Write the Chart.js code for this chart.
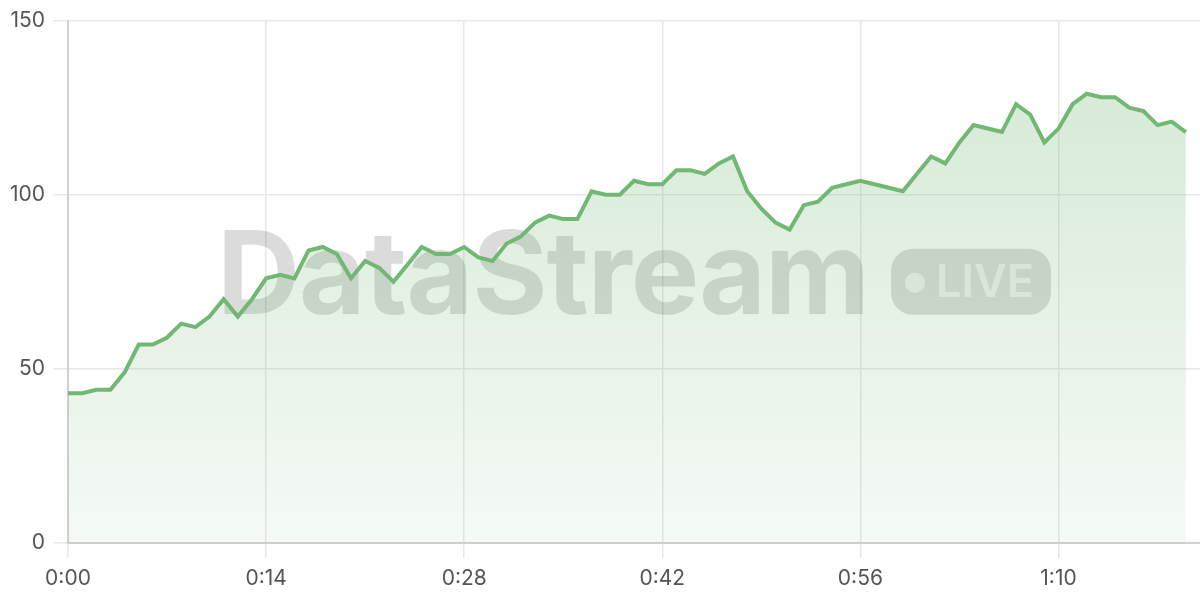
<!DOCTYPE html>
<html>
<head>
<meta charset="utf-8">
<script src="https://cdn.jsdelivr.net/npm/chart.js@4.4.1/dist/chart.umd.min.js"></script>
<style>
  html, body { margin: 0; padding: 0; background: #fff; }
  #wrap { width: 1200px; height: 600px; }
</style>
</head>
<body>
<div id="wrap"><canvas id="streamChart"></canvas></div>
<script>
// seconds 0..80, label every 14 s
const timeLabels = [];
for (let s = 0; s <= 80; s++) {
    timeLabels.push(Math.floor(s / 60) + ':' + String(s % 60).padStart(2, '0'));
}
const viewerValues = [
    43, 43, 44, 44, 49, 57, 57, 59, 63, 62,
    65, 70, 65, 70, 76, 77, 76, 84, 85, 83,
    76, 81, 79, 75, 80, 85, 83, 83, 85, 82,
    81, 86, 88, 92, 94, 93, 93, 101, 100, 100,
    104, 103, 103, 107, 107, 106, 109, 111, 101, 96,
    92, 90, 97, 98, 102, 103, 104, 103, 102, 101,
    106, 111, 109, 115, 120, 119, 118, 126, 123, 115,
    119, 126, 129, 128, 128, 125, 124, 120, 121, 118
];
const yTicks = [0, 50, 100, 150];
const tickEvery = 14;

// watermark "DataStream • LIVE" behind the line
const watermark = {
    id: 'watermark',
    beforeDatasetsDraw(chart) {
        const { ctx, chartArea } = chart;
        const cx = (chartArea.left + chartArea.right) / 2;
        const cy = (chartArea.top + chartArea.bottom) / 2;
        ctx.save();
        ctx.font = 'bold 115px Inter';
        ctx.letterSpacing = '-1px';
        const w = ctx.measureText('DataStream').width;
        const pillW = 160, pillH = 66, gap = 22;
        const total = w + gap + pillW;
        const x0 = cx - total / 2;
        ctx.fillStyle = 'rgba(0,0,0,0.14)';
        ctx.textBaseline = 'alphabetic';
        ctx.fillText('DataStream', x0, cy + 32);
        const px = x0 + w + gap, py = cy - pillH / 2;
        ctx.beginPath();
        ctx.roundRect(px, py, pillW, pillH, 22);
        ctx.fill();
        ctx.fillStyle = 'rgba(255,255,255,0.6)';
        ctx.beginPath();
        ctx.arc(px + 24, cy + 1, 10, 0, Math.PI * 2);
        ctx.fill();
        ctx.letterSpacing = '0px';
        ctx.font = '600 45px Inter';
        ctx.textBaseline = 'middle';
        ctx.fillText('LIVE', px + 45, cy + 2);
        ctx.restore();
    }
};

const ctx = document.getElementById('streamChart').getContext('2d');
new Chart(ctx, {
    type: 'line',
    data: {
        labels: timeLabels,
        datasets: [{
            data: viewerValues,
            borderColor: '#72b874',
            borderWidth: 4,
            pointRadius: 0,
            tension: 0,
            fill: 'origin',
            backgroundColor: function (context) {
                const area = context.chart.chartArea;
                if (!area) return 'rgba(114,184,116,0.2)';
                const g = context.chart.ctx.createLinearGradient(0, area.top, 0, area.bottom);
                g.addColorStop(0, 'rgba(114,184,116,0.32)');
                g.addColorStop(1, 'rgba(114,184,116,0.07)');
                return g;
            }
        }]
    },
    options: {
        responsive: true,
        maintainAspectRatio: false,
        animation: false,
        layout: { padding: { top: 8, right: 0, left: 0, bottom: 0 } },
        plugins: {
            legend: { display: false },
            tooltip: { enabled: false }
        },
        scales: {
            x: {
                offset: false,
                afterFit: function (axis) { axis.height = 57; },
                grid: { color: '#e8e8e8', tickLength: 15, lineWidth: 1.5 },
                border: { color: '#d0d0d0', width: 2 },
                ticks: {
                    autoSkip: false,
                    maxRotation: 0,
                    padding: 8,
                    color: '#555',
                    font: { family: 'Inter', size: 21 },
                    callback: function (value, index) {
                        return index % tickEvery === 0 ? timeLabels[index] : null;
                    }
                }
            },
            y: {
                min: yTicks[0],
                max: yTicks[yTicks.length - 1],
                afterBuildTicks: function (axis) {
                    axis.ticks = yTicks.map(v => ({ value: v }));
                },
                afterFit: function (axis) { axis.width = 68; },
                grid: { color: '#e8e8e8', tickLength: 15, lineWidth: 1.5 },
                border: { color: '#d0d0d0', width: 2 },
                ticks: {
                    padding: 8,
                    color: '#555',
                    font: { family: 'Inter', size: 21 }
                }
            }
        }
    },
    plugins: [watermark]
});
</script>
</body>
</html>
